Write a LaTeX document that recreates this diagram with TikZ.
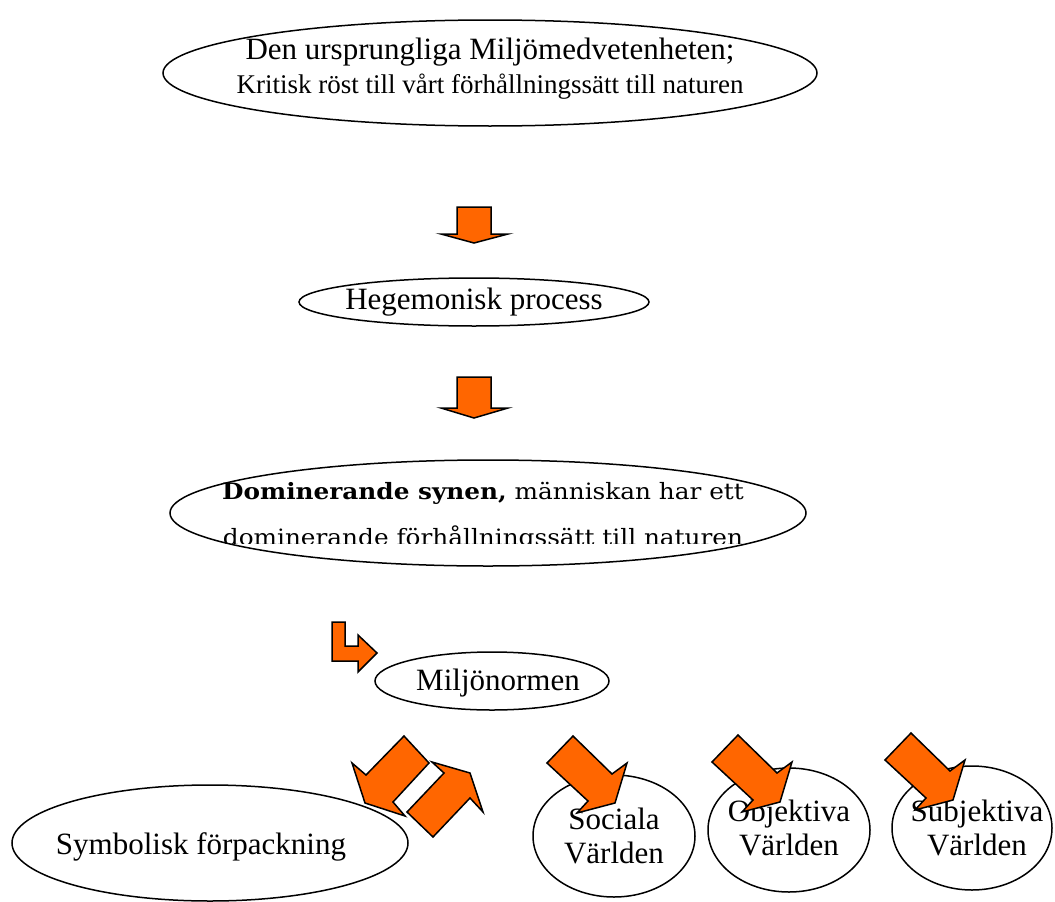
\documentclass[tikz,border=0pt]{standalone}
\usepackage{fontspec}
\setmainfont{Liberation Serif}
\newfontfamily\domfont[FakeStretch=1.1]{DejaVu Serif}
\definecolor{arroworange}{RGB}{255,102,0}
\usetikzlibrary{shapes.geometric}

\begin{document}
\begin{tikzpicture}[x=1pt,y=-1pt,
    ell/.style={draw,ellipse,line width=1.5pt,inner sep=0pt},
    lbl/.style={align=center,inner sep=0pt,font=\fontsize{31}{34}\selectfont},
    blockarrow/.style={draw,fill=arroworange,line width=1.5pt,line join=miter}]
  \useasboundingbox (0,0) rectangle (1055,902);
  % the chain down the middle
  \node[ell,minimum width=654pt,minimum height=106pt,
    label={[lbl,yshift=4pt]center:{Den ursprungliga Miljömedvetenheten;\\
      \fontsize{27}{33}\selectfont Kritisk röst till vårt förhållningssätt till naturen}}]
    (origin) at (490,73) {};
  \node[ell,minimum width=350pt,minimum height=48pt,
    label={[lbl]center:Hegemonisk process}] (hege) at (474,302) {};
  \node[ell,minimum width=636pt,minimum height=106pt] (dom) at (488,513) {};
  \begin{scope}
    \clip (150,440) rectangle (830,543);
    \node[font=\domfont\fontsize{22.5}{46}\selectfont,align=center,inner sep=0pt] (domtext) at (483,516)
      {\textbf{Dominerande synen,} människan har ett\\dominerande förhållningssätt till naturen};
  \end{scope}
  \node[ell,minimum width=234pt,minimum height=58pt,
    label={[lbl,xshift=6pt,yshift=-2pt]center:Miljönormen}] (norm) at (492,681) {};
  % bottom row
  \node[ell,minimum width=396pt,minimum height=116pt,
    label={[lbl,xshift=-9pt,yshift=-4pt]center:Symbolisk förpackning}] (symb) at (210,843) {};
  \node[ell,minimum width=162pt,minimum height=122pt,
    label={[lbl]center:Sociala\\Världen}] (soc) at (614,836) {};
  \node[ell,minimum width=162pt,minimum height=124pt,
    label={[lbl,yshift=2pt]center:Objektiva\\Världen}] (obj) at (789,830) {};
  \node[ell,minimum width=160pt,minimum height=124pt,
    label={[lbl,xshift=5pt]center:Subjektiva\\Världen}] (subj) at (972,828) {};

  % block arrows
  \draw[blockarrow] (457,207) -- (491,207) -- (491,234) -- (508,234) -- (474,243)
    -- (441,234) -- (457,234) -- cycle;
  \draw[blockarrow] (457,377) -- (491,377) -- (491,408) -- (508,408) -- (474,418)
    -- (441,408) -- (457,408) -- cycle;
  \draw[blockarrow] (332,622) -- (345,622) -- (345,646) -- (358,646) -- (358,635)
    -- (377,653) -- (358,672) -- (358,661) -- (332,661) -- cycle;
  \draw[blockarrow] (404,736) -- (429,763) -- (393,802) -- (405,816) -- (365,803)
    -- (352,763) -- (366,775) -- cycle;
  \draw[blockarrow] (407,812) -- (444,773) -- (432,762) -- (470,773) -- (483,812)
    -- (470,798) -- (433,837) -- cycle;
  \foreach \dx/\dy in {0/0,165/-1,338/-3}
    \draw[blockarrow,shift={(\dx,\dy)}] (547,763) -- (573,736) -- (612,774) -- (627,763)
      -- (615,803) -- (577,813) -- (588,801) -- cycle;
\end{tikzpicture}
\end{document}
